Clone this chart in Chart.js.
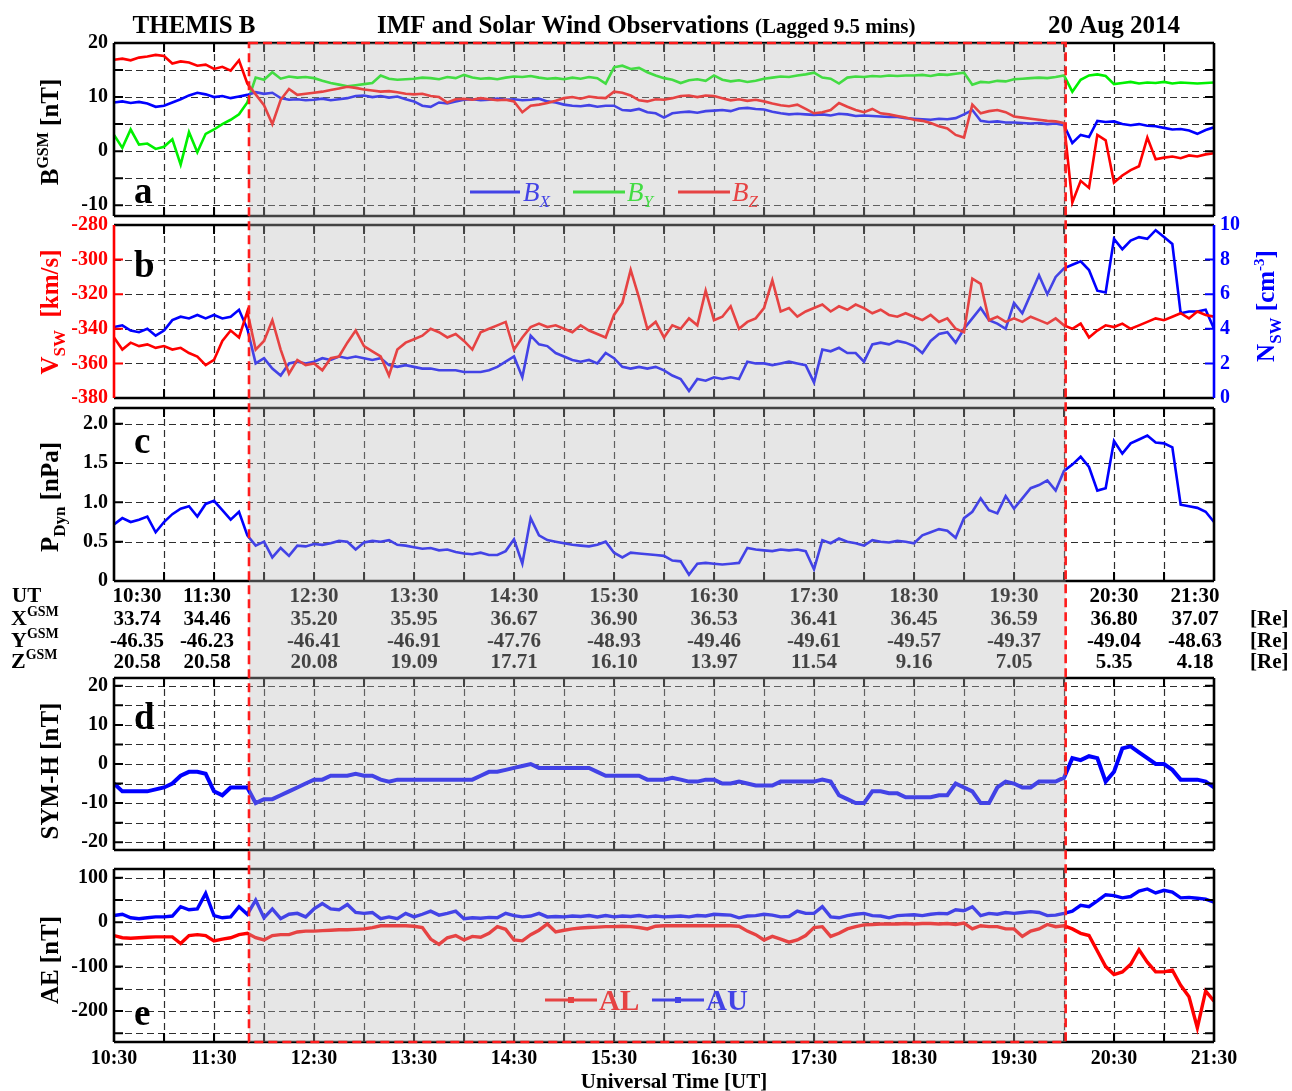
<!DOCTYPE html>
<html>
<head>
<meta charset="utf-8">
<title>THEMIS B - IMF and Solar Wind Observations</title>
<script src="https://cdn.jsdelivr.net/npm/chart.js@4.4.1/dist/chart.umd.min.js"></script>
<style>
  html, body { margin: 0; padding: 0; background: #ffffff; }
  #wrap { position: relative; width: 1292px; height: 1091px; overflow: hidden; }
  #wrap canvas { position: absolute; left: 0; }
</style>
</head>
<body>
<div id="wrap">
  <canvas id="panelA"></canvas>
  <canvas id="panelB"></canvas>
  <canvas id="panelC"></canvas>
  <canvas id="panelD"></canvas>
  <canvas id="panelE"></canvas>
  <canvas id="overlay" width="1292" height="1091" style="top:0"></canvas>
</div>
<script>
// sample times: minutes after 10:30 UT, one value every 5 min up to 21:30
const sampleStep = 5;
const times = [];
for (let m = 0; m <= 660; m += sampleStep) times.push(m);

// shaded interval, minutes after 10:30 (11:51 - 20:01)
const shadeStart = 81;
const shadeEnd = 571;

// panel a: IMF GSM components [nT]
const bx = [
  9.0, 9.2, 8.9, 9.1, 8.8, 8.2, 8.4, 9.0, 9.6, 10.3, 10.8, 10.5,
  10.0, 10.2, 9.8, 10.1, 10.4, 10.9, 10.6, 10.8, 9.8, 9.5, 9.6, 9.4,
  9.5, 9.7, 9.4, 9.6, 9.8, 10.2, 10.3, 10.0, 10.2, 9.9, 10.1, 9.6,
  9.2, 8.4, 8.2, 9.0, 8.8, 9.2, 9.5, 9.6, 9.4, 9.5, 9.7, 9.5,
  9.6, 9.4, 9.5, 9.7, 9.2, 9.0, 8.6, 8.4, 8.3, 8.5, 8.2, 8.4,
  8.4, 7.6, 7.5, 7.8, 7.2, 7.0, 6.2, 7.0, 7.2, 7.3, 7.1, 7.4,
  7.5, 7.6, 7.4, 7.9, 8.0, 7.8, 7.7, 7.3, 7.0, 6.8, 6.9, 6.8,
  6.7, 6.8, 6.6, 6.9, 6.8, 6.5, 6.6, 6.5, 6.4, 6.3, 6.3, 6.1,
  6.0, 5.9, 5.8, 6.0, 5.9, 6.1, 6.8, 7.6, 5.6, 5.4, 5.5, 5.3,
  5.3, 5.2, 5.1, 5.2, 5.0, 5.1, 4.8, 1.5, 3.0, 2.6, 5.6, 5.4,
  5.5, 5.0, 4.8, 5.0, 4.7, 4.6, 4.3, 4.0, 4.1, 3.8, 3.2, 3.9,
  4.4
];
const by = [
  3.0, 0.6, 4.0, 1.2, 1.4, 0.4, 0.8, 2.2, -2.5, 3.5, -0.2, 3.2,
  4.0, 5.0, 5.8, 6.8, 9.0, 13.6, 13.2, 14.6, 13.4, 13.8, 13.6, 13.7,
  13.5, 13.0, 12.6, 12.3, 12.0, 12.2, 12.4, 12.6, 14.0, 13.4, 13.2, 13.3,
  13.4, 13.6, 13.5, 13.3, 13.7, 13.5, 14.1, 13.6, 13.4, 13.5, 13.3, 13.6,
  13.8, 13.7, 13.9, 13.6, 13.4, 13.5, 13.3, 13.6, 13.4, 13.7, 13.5, 12.5,
  15.5, 15.8, 15.2, 15.4, 14.6, 14.0, 13.5, 13.2, 12.6, 13.1, 13.3, 13.0,
  14.0, 13.2, 12.9, 13.1, 12.8, 13.0, 13.4, 13.6, 13.8, 13.7, 14.0, 14.2,
  14.5, 13.6, 13.4, 12.5, 13.6, 13.8, 13.7, 13.9, 13.8, 14.0, 13.9, 14.0,
  14.0, 14.1, 13.9, 14.2, 14.1, 14.3, 14.5, 12.3, 12.8, 12.7, 13.0, 12.9,
  13.3, 13.4, 13.5, 13.6, 13.5, 13.7, 14.0, 11.0, 13.2, 14.0, 14.2, 13.9,
  12.4, 12.6, 12.8, 12.5, 12.7, 12.6, 12.8, 12.5, 12.7, 12.6, 12.5, 12.6,
  12.7
];
const bz = [
  16.9, 17.1, 16.8, 17.3, 17.5, 17.8, 17.6, 16.2, 16.6, 16.4, 15.8, 16.0,
  15.2, 15.6, 14.9, 16.8, 12.5, 10.5, 8.5, 5.0, 9.5, 11.5, 10.4, 10.6,
  10.8, 11.0, 11.3, 11.6, 11.9, 11.7, 11.4, 11.2, 11.0, 11.1, 10.9, 10.6,
  10.5, 10.6, 10.2, 10.0, 9.0, 9.6, 9.7, 9.5, 9.8, 9.6, 9.4, 9.5,
  9.2, 7.2, 8.4, 8.6, 8.9, 9.3, 9.8, 10.0, 9.7, 10.1, 9.9, 9.8,
  11.0, 10.8, 10.3, 9.4, 9.2, 9.6, 9.5, 9.8, 10.2, 10.3, 10.0, 10.3,
  10.2, 9.8, 9.4, 9.6, 9.3, 9.5, 9.2, 8.8, 8.5, 8.3, 8.6, 7.8,
  7.0, 7.2, 7.6, 8.9, 8.2, 7.6, 7.2, 7.8, 7.0, 6.8, 6.5, 6.2,
  5.8, 5.6, 5.2, 4.6, 4.2, 3.0, 2.5, 8.6, 7.0, 7.4, 7.6, 7.2,
  6.4, 6.2, 6.0, 5.8, 5.6, 5.5, 5.2, -9.5, -5.5, -6.8, 3.0, 2.0,
  -5.8, -4.5, -3.5, -2.8, 2.5, -1.5, -1.2, -1.0, -1.3, -0.8, -1.0, -0.6,
  -0.4
];

// panel b: solar wind speed [km/s] and density [cm^-3]
const vsw = [
  -345, -352, -348, -350, -349, -351, -350, -352, -351, -354, -356, -361,
  -358, -347, -341, -345, -330, -352, -347, -335, -352, -366, -358, -361,
  -360, -364, -357, -356, -348, -341, -350, -353, -356, -367, -352, -348,
  -346, -344, -340, -342, -345, -343, -347, -352, -342, -340, -338, -336,
  -352, -345, -339, -337, -339, -338, -340, -342, -338, -341, -343, -345,
  -332, -325, -306, -322, -340, -336, -345, -338, -340, -334, -338, -318,
  -335, -333, -327, -340, -336, -334, -328, -312, -330, -328, -333, -330,
  -328, -326, -330, -327, -329, -326, -328, -331, -329, -332, -333, -331,
  -333, -335, -332, -336, -334, -340, -342, -311, -314, -335, -333, -336,
  -334, -336, -333, -335, -337, -334, -338, -340, -337, -345, -341, -338,
  -339, -337, -340, -338, -336, -334, -335, -333, -331, -334, -330, -332,
  -333
];
const nsw = [
  4.1, 4.2, 3.9, 3.8, 4.0, 3.6, 3.9, 4.5, 4.7, 4.6, 4.8, 4.6,
  4.8, 4.6, 4.7, 5.1, 4.0, 2.0, 2.3, 1.7, 1.3, 2.0, 2.1, 2.0,
  2.1, 2.3, 2.2, 2.4, 2.3, 2.4, 2.3, 2.2, 2.3, 1.9, 1.8, 1.9,
  1.8, 1.7, 1.7, 1.6, 1.6, 1.6, 1.5, 1.5, 1.5, 1.6, 1.8, 2.1,
  2.4, 1.2, 3.6, 3.1, 3.0, 2.6, 2.4, 2.2, 2.1, 2.2, 2.0, 2.6,
  2.3, 1.8, 1.7, 1.8, 1.7, 1.8, 1.6, 1.3, 1.1, 0.4, 1.1, 1.0,
  1.2, 1.1, 1.2, 1.1, 2.1, 2.0, 2.0, 1.9, 2.0, 2.1, 2.0, 1.9,
  0.9, 2.8, 2.7, 2.9, 2.6, 2.6, 2.1, 3.1, 3.2, 3.1, 3.3, 3.2,
  3.0, 2.6, 3.3, 3.7, 3.8, 3.2, 4.0, 4.6, 5.2, 4.5, 4.3, 4.0,
  5.5, 4.9, 6.0, 7.1, 6.0, 7.0, 7.5, 7.7, 7.9, 7.4, 6.2, 6.1,
  9.2, 8.6, 9.1, 9.3, 9.2, 9.7, 9.3, 8.9, 4.9, 5.0, 5.0, 5.1,
  4.0
];

// panel c: dynamic pressure [nPa]
const pdyn = [
  0.72, 0.80, 0.75, 0.78, 0.82, 0.62, 0.75, 0.85, 0.92, 0.95, 0.82, 0.98,
  1.02, 0.90, 0.78, 0.88, 0.58, 0.45, 0.50, 0.30, 0.42, 0.32, 0.45, 0.44,
  0.47, 0.46, 0.48, 0.51, 0.50, 0.40, 0.49, 0.51, 0.50, 0.52, 0.46, 0.45,
  0.43, 0.41, 0.42, 0.39, 0.40, 0.37, 0.35, 0.34, 0.36, 0.33, 0.33, 0.38,
  0.53, 0.22, 0.80, 0.58, 0.52, 0.50, 0.48, 0.46, 0.45, 0.44, 0.46, 0.50,
  0.36, 0.30, 0.36, 0.35, 0.34, 0.33, 0.32, 0.26, 0.25, 0.08, 0.22, 0.23,
  0.22, 0.21, 0.22, 0.23, 0.42, 0.40, 0.39, 0.38, 0.40, 0.39, 0.40, 0.38,
  0.15, 0.52, 0.48, 0.54, 0.50, 0.48, 0.45, 0.52, 0.50, 0.49, 0.51, 0.50,
  0.48, 0.58, 0.62, 0.66, 0.64, 0.55, 0.80, 0.88, 1.05, 0.90, 0.86, 1.08,
  0.92, 1.05, 1.18, 1.22, 1.28, 1.15, 1.40, 1.48, 1.58, 1.45, 1.15, 1.18,
  1.78, 1.62, 1.75, 1.80, 1.85, 1.76, 1.75, 1.70, 0.97, 0.95, 0.93, 0.88,
  0.75
];

// panel d: SYM-H [nT]
const symh = [
  -5, -7, -7, -7, -7, -6.5, -6, -5, -3, -2, -2, -2.5,
  -7, -8, -6, -6, -6, -10, -9, -9, -8, -7, -6, -5,
  -4, -4, -3, -3, -3, -2.5, -3, -3, -4, -4.5, -4, -4,
  -4, -4, -4, -4, -4, -4, -4, -4, -3, -2, -2, -1.5,
  -1, -0.5, 0, -1, -1, -1, -1, -1, -1, -1, -2, -3,
  -3, -3, -3, -3, -4, -4, -4, -3.5, -4, -4.5, -4.5, -4,
  -4, -5, -5, -4.5, -5, -5.5, -5.5, -5.5, -4.5, -4.5, -4.5, -4.5,
  -4.5, -4, -4.5, -8, -9, -10, -10, -7, -7, -7.5, -7.5, -8.5,
  -8.5, -8.5, -8.5, -8, -8, -5, -6, -7, -10, -10, -6, -4.5,
  -5, -6, -6, -4.5, -4.5, -4.5, -3.5, 1.5, 1, 2, 1.5, -4.5,
  -2, 4, 4.5, 3, 1.5, 0, 0, -1.5, -4, -4, -4, -4.5,
  -6
];

// panel e: AU and AL [nT]
const au = [
  15, 18, 10, 8, 10, 12, 12, 14, 35, 28, 30, 65,
  15, 10, 12, 35, 18, 50, 10, 30, 8, 18, 20, 12,
  30, 42, 30, 28, 40, 22, 20, 22, 8, 12, 8, 20,
  12, 18, 25, 16, 20, 25, 8, 10, 9, 11, 10, 20,
  15, 12, 14, 20, 12, 13, 12, 14, 13, 15, 12, 15,
  12, 14, 13, 15, 12, 14, 12, 13, 14, 12, 15, 14,
  18, 17, 16, 10, 14, 15, 18, 16, 12, 13, 25, 20,
  20, 35, 12, 10, 15, 18, 20, 15, 14, 10, 15, 16,
  17, 15, 18, 20, 19, 28, 26, 35, 15, 20, 18, 22,
  20, 22, 24, 22, 15, 16, 20, 25, 38, 35, 48, 62,
  60, 55, 58, 70, 75, 66, 72, 68, 55, 56, 54, 52,
  45
];
const al = [
  -30, -35, -36, -35, -34, -33, -33, -33, -48, -30, -28, -30,
  -42, -38, -35, -28, -25, -35, -40, -30, -28, -28, -22, -20,
  -20, -19, -18, -17, -17, -16, -15, -12, -8, -8, -8, -8,
  -9, -12, -38, -50, -35, -30, -40, -32, -34, -25, -10, -16,
  -40, -42, -28, -18, -4, -22, -18, -15, -13, -12, -11, -10,
  -10, -9, -10, -12, -15, -9, -8, -8, -8, -8, -8, -8,
  -8, -8, -8, -9, -20, -28, -40, -32, -38, -45, -40, -30,
  -12, -10, -32, -25, -15, -10, -6, -5, -4, -4, -4, -3,
  -4, -3, -3, -4, -3, -5, -2, -15, -8, -10, -10, -15,
  -15, -32, -20, -15, -5, -10, -8, -15, -25, -30, -65, -100,
  -118, -112, -95, -62, -90, -112, -112, -108, -142, -168, -238, -155,
  -178
];

// ephemeris table
const utLabels = ['10:30', '11:30', '12:30', '13:30', '14:30', '15:30', '16:30', '17:30', '18:30', '19:30', '20:30', '21:30'];
const xGsm = ['33.74', '34.46', '35.20', '35.95', '36.67', '36.90', '36.53', '36.41', '36.45', '36.59', '36.80', '37.07'];
const yGsm = ['-46.35', '-46.23', '-46.41', '-46.91', '-47.76', '-48.93', '-49.46', '-49.61', '-49.57', '-49.37', '-49.04', '-48.63'];
const zGsm = ['20.58', '20.58', '20.08', '19.09', '17.71', '16.10', '13.97', '11.54', '9.16', '7.05', '5.35', '4.18'];

const SERIF = '"Liberation Serif", "Times New Roman", serif';
const BLUE = '#0000ff', RED = '#ff0000', GREEN = '#00f000';

function hhmm(v) {
  const m = 10 * 60 + 30 + v;
  return Math.floor(m / 60) + ':' + String(m % 60).padStart(2, '0');
}

// text made of runs with different sizes / offsets (sub- and superscripts)
function rich(ctx, x, y, parts, color, vertical, align) {
  ctx.save();
  ctx.translate(x, y);
  if (vertical) ctx.rotate(-Math.PI / 2);
  ctx.fillStyle = color;
  ctx.textBaseline = 'alphabetic';
  ctx.textAlign = 'left';
  const fontOf = p => (p.style || 'bold') + ' ' + p.size + 'px ' + SERIF;
  let w = 0;
  parts.forEach(p => { ctx.font = fontOf(p); w += ctx.measureText(p.t).width; });
  let cx = align === 'left' ? 0 : -w / 2;
  parts.forEach(p => {
    ctx.font = fontOf(p);
    ctx.fillText(p.t, cx, p.dy || 0);
    cx += ctx.measureText(p.t).width;
  });
  ctx.restore();
}

function legendLine(ctx, x0, x1, y, color, marker) {
  ctx.save();
  ctx.strokeStyle = color;
  ctx.lineWidth = 3;
  ctx.beginPath();
  ctx.moveTo(x0, y);
  ctx.lineTo(x1, y);
  ctx.stroke();
  if (marker) {
    ctx.fillStyle = color;
    ctx.fillRect((x0 + x1) / 2 - 3, y - 3, 6, 6);
  }
  ctx.restore();
}

// extra drawing per panel, in page coordinates
const extras = {
  panelA(ctx) {
    rich(ctx, 58, 132, [{ t: 'B', size: 25 }, { t: 'GSM', size: 16, dy: -10 }, { t: ' [nT]', size: 25 }], '#000', true);
    legendLine(ctx, 470, 520, 192, BLUE);
    rich(ctx, 523, 201, [{ t: 'B', size: 27, style: 'italic' }, { t: 'X', size: 17, style: 'italic', dy: 6 }], BLUE, false, 'left');
    legendLine(ctx, 573, 625, 192, GREEN);
    rich(ctx, 627, 201, [{ t: 'B', size: 27, style: 'italic' }, { t: 'Y', size: 17, style: 'italic', dy: 6 }], GREEN, false, 'left');
    legendLine(ctx, 678, 730, 192, RED);
    rich(ctx, 732, 201, [{ t: 'B', size: 27, style: 'italic' }, { t: 'Z', size: 17, style: 'italic', dy: 6 }], RED, false, 'left');
  },
  panelB(ctx) {
    rich(ctx, 58, 312, [{ t: 'V', size: 25 }, { t: 'SW', size: 17, dy: 7 }, { t: '  [km/s]', size: 25 }], RED, true);
    rich(ctx, 1274, 306, [{ t: 'N', size: 25 }, { t: 'SW', size: 17, dy: 7 }, { t: ' [cm', size: 25 }, { t: '-3', size: 15, dy: -10 }, { t: ']', size: 25 }], BLUE, true);
  },
  panelC(ctx) {
    rich(ctx, 58, 497, [{ t: 'P', size: 25 }, { t: 'Dyn', size: 17, dy: 7 }, { t: ' [nPa]', size: 25 }], '#000', true);
  },
  panelD(ctx) {
    rich(ctx, 58, 771, [{ t: 'SYM-H [nT]', size: 25 }], '#000', true);
  },
  panelE(ctx) {
    rich(ctx, 58, 960, [{ t: 'AE [nT]', size: 25 }], '#000', true);
    legendLine(ctx, 545, 597, 1000, RED, true);
    rich(ctx, 599, 1010, [{ t: 'AL', size: 29 }], RED, false, 'left');
    legendLine(ctx, 652, 704, 1000, BLUE, true);
    rich(ctx, 706, 1010, [{ t: 'AU', size: 29 }], BLUE, false, 'left');
    rich(ctx, 674, 1088, [{ t: 'Universal Time [UT]', size: 21 }], '#000', false);
  }
};

// per-canvas settings used by the plugin (set before each chart is built)
const panelInfo = {};

const panelDecor = {
  id: 'panelDecor',
  beforeDatasetsDraw(chart) {
    const { ctx, chartArea: a, scales } = chart;
    ctx.save();
    ctx.strokeStyle = '#2e2e2e';
    ctx.lineWidth = 1.2;
    ctx.setLineDash([7, 4]);
    ctx.beginPath();
    scales.x.ticks.forEach(t => {
      const p = Math.round(scales.x.getPixelForValue(t.value)) + 0.5;
      if (p <= a.left + 2 || p >= a.right - 2) return;
      ctx.moveTo(p, a.top);
      ctx.lineTo(p, a.bottom);
    });
    scales.y.ticks.forEach(t => {
      const p = Math.round(scales.y.getPixelForValue(t.value)) + 0.5;
      if (p <= a.top + 2 || p >= a.bottom - 2) return;
      ctx.moveTo(a.left, p);
      ctx.lineTo(a.right, p);
    });
    ctx.stroke();
    ctx.restore();
  },
  afterDraw(chart) {
    const { ctx, chartArea: a, scales } = chart;
    const info = panelInfo[chart.canvas.id];
    if (!info) return;
    ctx.save();
    ctx.setLineDash([]);
    ctx.lineWidth = 2;
    ctx.strokeStyle = '#000';
    ctx.beginPath();
    scales.x.ticks.forEach(t => {
      const p = scales.x.getPixelForValue(t.value);
      ctx.moveTo(p, a.top); ctx.lineTo(p, a.top + 9);
      ctx.moveTo(p, a.bottom); ctx.lineTo(p, a.bottom - 9);
    });
    ctx.stroke();
    const yTicks = (scale, x0, dir, color) => {
      ctx.strokeStyle = color;
      ctx.beginPath();
      scale.ticks.forEach(t => {
        const p = scale.getPixelForValue(t.value);
        ctx.moveTo(x0, p); ctx.lineTo(x0 + dir * 9, p);
      });
      ctx.stroke();
    };
    yTicks(scales.y, a.left, 1, info.left);
    yTicks(scales.y2 || scales.y, a.right, -1, info.right);
    ctx.lineWidth = 2.6;
    ctx.strokeStyle = '#000';
    ctx.beginPath();
    ctx.moveTo(a.left, a.top); ctx.lineTo(a.right, a.top);
    ctx.moveTo(a.left, a.bottom); ctx.lineTo(a.right, a.bottom);
    ctx.stroke();
    ctx.strokeStyle = info.left;
    ctx.beginPath(); ctx.moveTo(a.left, a.top); ctx.lineTo(a.left, a.bottom); ctx.stroke();
    ctx.strokeStyle = info.right;
    ctx.beginPath(); ctx.moveTo(a.right, a.top); ctx.lineTo(a.right, a.bottom); ctx.stroke();
    ctx.translate(0, -info.pageTop);
    ctx.fillStyle = '#000';
    ctx.font = 'bold 37px ' + SERIF;
    ctx.textAlign = 'left';
    ctx.textBaseline = 'alphabetic';
    ctx.fillText(info.letter, 134, info.letterY);
    extras[chart.canvas.id](ctx);
    ctx.restore();
  }
};

const tickFont = { family: SERIF, size: 20, weight: 'bold' };

// keep the plot box exactly where it is asked for: no label overflow padding
function noOverflow(s) {
  s.paddingTop = 0;
  s.paddingBottom = 0;
  s.paddingLeft = 0;
  s.paddingRight = 0;
}

function makePanel(id, top, bottom, cfg) {
  const cv = document.getElementById(id);
  const padTop = 14;
  const below = cfg.timeLabels ? 1091 - bottom : 14;
  cv.width = 1292;
  cv.height = bottom - top + padTop + below;
  cv.style.top = (top - padTop) + 'px';
  panelInfo[id] = {
    pageTop: top - padTop, letter: cfg.letter, letterY: cfg.letterY,
    left: cfg.leftColor || '#000', right: cfg.rightColor || '#000'
  };
  const scales = {
    x: {
      type: 'linear', min: 0, max: 660,
      afterFit: s => { s.height = cfg.timeLabels ? below : 0; noOverflow(s); },
      grid: { display: false, drawTicks: false },
      border: { display: false },
      ticks: {
        display: !!cfg.timeLabels, stepSize: 30, autoSkip: false, maxRotation: 0, padding: 5,
        color: '#000', font: tickFont,
        callback: v => (v % 60 === 0 ? hhmm(v) : '')
      }
    },
    y: {
      min: cfg.y.min, max: cfg.y.max,
      afterFit: s => { s.width = 114; noOverflow(s); },
      grid: { display: false, drawTicks: false },
      border: { display: false },
      ticks: {
        stepSize: cfg.y.step, includeBounds: false, autoSkip: false, padding: 6,
        color: cfg.leftColor || '#000', font: tickFont, callback: cfg.y.label
      }
    }
  };
  if (cfg.y2) {
    scales.y2 = {
      position: 'right', min: cfg.y2.min, max: cfg.y2.max,
      afterFit: s => { s.width = 78; noOverflow(s); },
      grid: { display: false, drawTicks: false },
      border: { display: false },
      ticks: { stepSize: cfg.y2.step, autoSkip: false, padding: 6, color: cfg.rightColor, font: tickFont }
    };
  }
  const chart = new Chart(cv, {
    type: 'line',
    data: {
      datasets: cfg.series.map(s => ({
        data: times.map((t, i) => ({ x: t, y: s.values[i] })),
        borderColor: s.color,
        borderWidth: s.width || 2.6,
        borderJoinStyle: 'miter',
        pointRadius: 0,
        fill: false,
        tension: 0,
        yAxisID: s.axis || 'y'
      }))
    },
    options: {
      responsive: false,
      animation: false,
      events: [],
      devicePixelRatio: 1,
      layout: { padding: { top: padTop, bottom: cfg.timeLabels ? 0 : below, left: 0, right: cfg.y2 ? 0 : 78 } },
      plugins: { legend: { display: false }, tooltip: { enabled: false } },
      scales: scales
    },
    plugins: [panelDecor]
  });
  chart.$pageTop = top - padTop;
  return chart;
}

const charts = {};
charts.a = makePanel('panelA', 43, 216, {
  letter: 'a', letterY: 203,
  y: { min: -12, max: 20, step: 5, label: v => (v % 10 === 0 ? v : '') },
  series: [
    { values: bz, color: RED },
    { values: bx, color: BLUE },
    { values: by, color: GREEN }
  ]
});
charts.b = makePanel('panelB', 225, 398, {
  letter: 'b', letterY: 277, leftColor: RED, rightColor: BLUE,
  y: { min: -380, max: -280, step: 20, label: v => v },
  y2: { min: 0, max: 10, step: 2 },
  series: [
    { values: vsw, color: RED },
    { values: nsw, color: BLUE, axis: 'y2' }
  ]
});
charts.c = makePanel('panelC', 408, 581, {
  letter: 'c', letterY: 453,
  y: { min: 0, max: 2.2, step: 0.5, label: v => (v === 0 ? '0' : v.toFixed(1)) },
  series: [{ values: pdyn, color: BLUE }]
});
charts.d = makePanel('panelD', 678, 850, {
  letter: 'd', letterY: 729,
  y: { min: -22, max: 22, step: 5, label: v => (v % 10 === 0 ? v : '') },
  series: [{ values: symh, color: BLUE, width: 4 }]
});
charts.e = makePanel('panelE', 869, 1042, {
  letter: 'e', letterY: 1025, timeLabels: true,
  y: { min: -270, max: 120, step: 50, label: v => (Math.abs(v) % 100 === 0 ? String(v) : '') },
  series: [
    { values: al, color: RED, width: 3.4 },
    { values: au, color: BLUE, width: 3.4 }
  ]
});

// heading, ephemeris table, shaded interval
(function drawOverlay() {
  const ctx = document.getElementById('overlay').getContext('2d');
  const xs = charts.e.scales.x;
  ctx.fillStyle = '#000';
  ctx.textBaseline = 'alphabetic';
  ctx.font = 'bold 25px ' + SERIF;
  ctx.textAlign = 'center';
  ctx.fillText('THEMIS B', 194, 33);
  ctx.fillText('20 Aug 2014', 1114, 33);
  ctx.textAlign = 'left';
  const head = 'IMF and Solar Wind Observations ';
  ctx.fillText(head, 377, 33);
  const hw = ctx.measureText(head).width;
  ctx.font = 'bold 21px ' + SERIF;
  ctx.fillText('(Lagged 9.5 mins)', 377 + hw, 33);

  // table
  const rows = [utLabels, xGsm, yGsm, zGsm];
  const baselines = [602, 625, 647, 668];
  ctx.font = 'bold 21px ' + SERIF;
  ctx.fillText('UT', 12, baselines[0]);
  ['X', 'Y', 'Z'].forEach((c, i) => {
    rich(ctx, 11, baselines[i + 1], [{ t: c, size: 22 }, { t: 'GSM', size: 14, dy: -9 }], '#000', false, 'left');
  });
  ctx.fillStyle = '#000';
  ctx.textAlign = 'center';
  ctx.font = 'bold 21px ' + SERIF;
  rows.forEach((row, r) => {
    row.forEach((txt, i) => {
      let px = xs.getPixelForValue(i * 60);
      if (i === 0) px += 23;
      else if (i === 1) px -= 7;
      else if (i === row.length - 1) px -= 19;
      ctx.fillText(txt, px, baselines[r]);
    });
  });
  ctx.textAlign = 'left';
  [1, 2, 3].forEach(r => ctx.fillText('[Re]', 1250, baselines[r]));

  // shaded interval and its dashed red outline
  const x0 = xs.getPixelForValue(shadeStart);
  const x1 = xs.getPixelForValue(shadeEnd);
  const yTop = charts.a.chartArea.top + charts.a.$pageTop;
  const yBot = charts.e.chartArea.bottom + charts.e.$pageTop;
  ctx.fillStyle = 'rgba(185,185,185,0.36)';
  ctx.fillRect(x0, yTop, x1 - x0, yBot - yTop);
  ctx.strokeStyle = '#ff1c1c';
  ctx.lineWidth = 2.6;
  ctx.setLineDash([9, 5]);
  ctx.strokeRect(x0, yTop, x1 - x0, yBot - yTop);
})();
</script>
</body>
</html>
